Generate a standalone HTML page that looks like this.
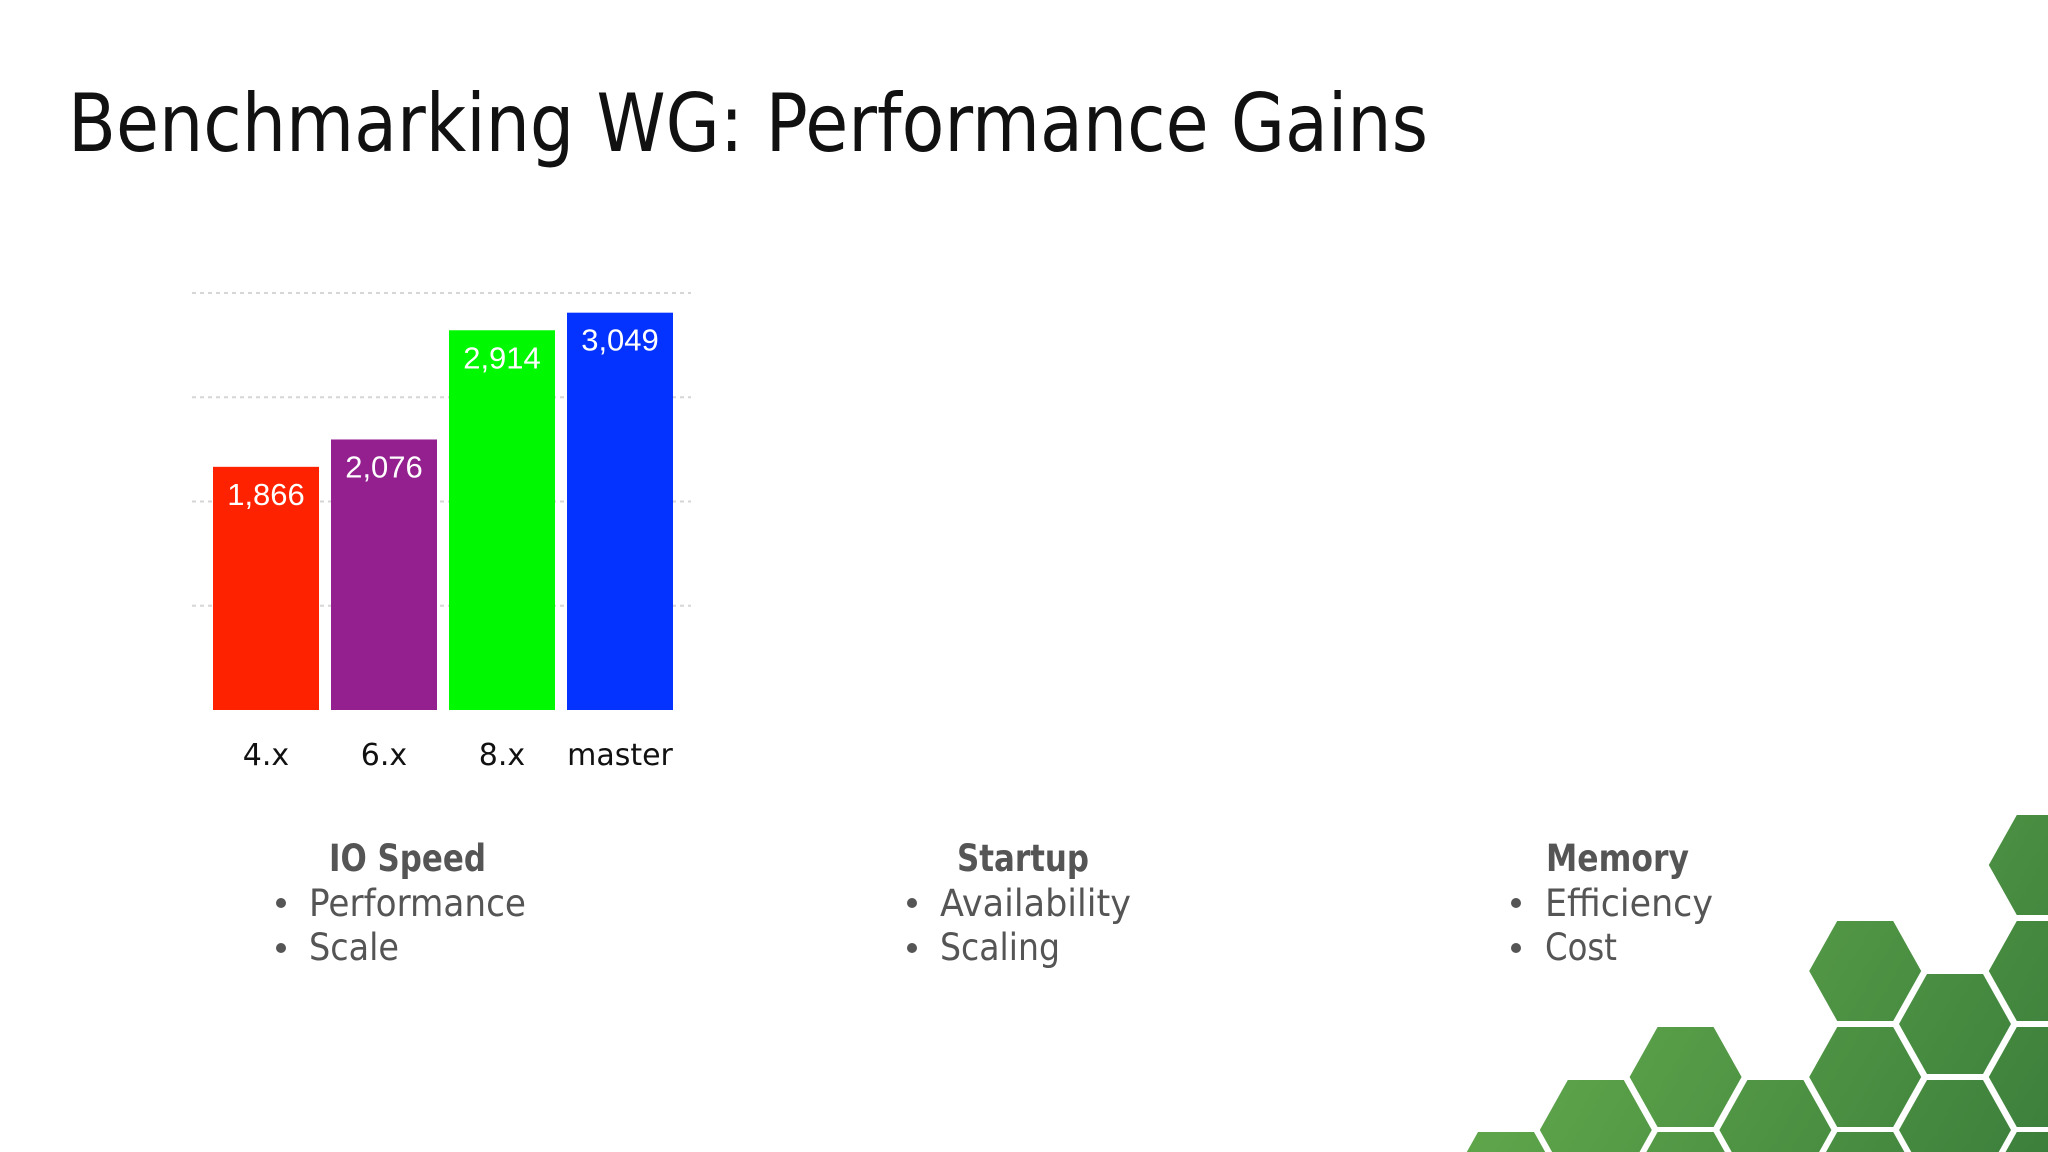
<!DOCTYPE html>
<html><head><meta charset="utf-8"><style>
html,body{margin:0;padding:0;background:#fff;width:2048px;height:1152px;overflow:hidden;}
svg{display:block;}
</style></head><body>
<svg id="slide" width="2048" height="1152" viewBox="0 0 2048 1152" xmlns="http://www.w3.org/2000/svg" style="overflow:hidden">
<defs>
<linearGradient id="hexgrad" gradientUnits="userSpaceOnUse" x1="1450" y1="800" x2="2048" y2="1152">
<stop offset="0" stop-color="#6cb450"/><stop offset="1" stop-color="#3c7f3c"/>
</linearGradient>
</defs>
<text x="68" y="151" font-family="'DejaVu Sans','Liberation Sans',sans-serif" font-size="80" fill="#111" textLength="1360" lengthAdjust="spacingAndGlyphs">Benchmarking WG: Performance Gains</text>
<g id="grid"></g>
<g id="bars"></g>
<g id="labels"></g>
<g id="cats"></g>

<g font-family="'DejaVu Sans','Liberation Sans',sans-serif" fill="#555">
<text x="329" y="871" font-size="37" font-weight="bold" textLength="157" lengthAdjust="spacingAndGlyphs">IO Speed</text>
<circle cx="281" cy="903" r="5"/>
<text x="309" y="916" font-size="37" textLength="217" lengthAdjust="spacingAndGlyphs">Performance</text>
<circle cx="281" cy="948" r="5"/>
<text x="309" y="960" font-size="37" textLength="90" lengthAdjust="spacingAndGlyphs">Scale</text>

<text x="957" y="871" font-size="37" font-weight="bold" textLength="132" lengthAdjust="spacingAndGlyphs">Startup</text>
<circle cx="912" cy="903" r="5"/>
<text x="940" y="916" font-size="37" textLength="191" lengthAdjust="spacingAndGlyphs">Availability</text>
<circle cx="912" cy="948" r="5"/>
<text x="940" y="960" font-size="37" textLength="120" lengthAdjust="spacingAndGlyphs">Scaling</text>

<text x="1546" y="871" font-size="37" font-weight="bold" textLength="143" lengthAdjust="spacingAndGlyphs">Memory</text>
<circle cx="1516" cy="903" r="5"/>
<text x="1545" y="916" font-size="37" textLength="168" lengthAdjust="spacingAndGlyphs">Efficiency</text>
<circle cx="1516" cy="948" r="5"/>
<text x="1545" y="960" font-size="37" textLength="72" lengthAdjust="spacingAndGlyphs">Cost</text>
</g>
<g id="hexes"></g>
</svg>
<script>
const categories = ["4.x", "6.x", "8.x", "master"];
const values = [1866, 2076, 2914, 3049];
const valueLabels = ["1,866", "2,076", "2,914", "3,049"];
const barColors = ["#ff2200", "#93208e", "#00f900", "#0433ff"];
const gridTicks = [800, 1600, 2400, 3200];

const NS = "http://www.w3.org/2000/svg";
const baseY = 710, topY = 293, yMax = 3200;
const plotLeft = 192, plotRight = 691;
const firstBarX = 213, barPitch = 118, barW = 106;
function yScale(v){ return baseY - v / yMax * (baseY - topY); }
function xScale(i){ return firstBarX + i * barPitch; }
function mk(tag, attrs, parent){ const e = document.createElementNS(NS, tag); for (const k in attrs) e.setAttribute(k, attrs[k]); parent.appendChild(e); return e; }

const grid = document.getElementById('grid');
gridTicks.forEach(t => {
  const l = mk('line', {x1: plotLeft, x2: plotRight, y1: yScale(t), y2: yScale(t), stroke: '#d6d6d6', 'stroke-width': 2, 'stroke-dasharray': '4 4'}, grid);
  
  
});
const bars = document.getElementById('bars'), labels = document.getElementById('labels'), cats = document.getElementById('cats');
categories.forEach((c, i) => {
  const x = xScale(i), y = yScale(values[i]);
  const r = mk('rect', {x: x, y: y, width: barW, height: baseY - y, fill: barColors[i]}, bars);
  
  
  const t = mk('text', {x: x + barW / 2, y: y + 38, 'text-anchor': 'middle', fill: '#fff', 'font-size': 31, 'font-family': "'Liberation Sans',sans-serif"}, labels);
  t.textContent = valueLabels[i];
  
  
  const ct = mk('text', {x: x + barW / 2, y: 765, 'text-anchor': 'middle', fill: '#111', 'font-size': 30, 'font-family': "'DejaVu Sans','Liberation Sans',sans-serif"}, cats);
  ct.textContent = c;
  
  
});

// clip polygon to frame (Sutherland-Hodgman)
function clipPoly(pts, W, H){
  const edges = [
    [p => p[0] <= W, (a,b) => { const t=(W-a[0])/(b[0]-a[0]); return [W, a[1]+t*(b[1]-a[1])]; }],
    [p => p[1] <= H, (a,b) => { const t=(H-a[1])/(b[1]-a[1]); return [a[0]+t*(b[0]-a[0]), H]; }]
  ];
  let out = pts;
  edges.forEach(([inside, inter]) => {
    const inp = out; out = [];
    for (let i = 0; i < inp.length; i++){
      const cur = inp[i], prev = inp[(i + inp.length - 1) % inp.length];
      if (inside(cur)) { if (!inside(prev)) out.push(inter(prev, cur)); out.push(cur); }
      else if (inside(prev)) out.push(inter(prev, cur));
    }
  });
  return out;
}
const hexCols = [[1132],[1080],[1132,1027],[1080],[1132,1027,921],[1080,974],[1132,1027,921,815]];
const hexG = document.getElementById('hexes');
hexCols.forEach((ys, k) => {
  const x0 = 1450 + k * 89.8, w = 112, h = 100, ins = 28;
  ys.forEach(y0 => {
    const raw = [[x0+ins,y0],[x0+w-ins,y0],[x0+w,y0+h/2],[x0+w-ins,y0+h],[x0+ins,y0+h],[x0,y0+h/2]];
    const c = clipPoly(raw, 2048, 1152);
    if (c.length < 3) return;
    const p = mk('polygon', {points: c.map(q => q[0].toFixed(1) + ',' + q[1].toFixed(1)).join(' '), fill: 'url(#hexgrad)'}, hexG);
    
    
  });
});
</script>
</body></html>
